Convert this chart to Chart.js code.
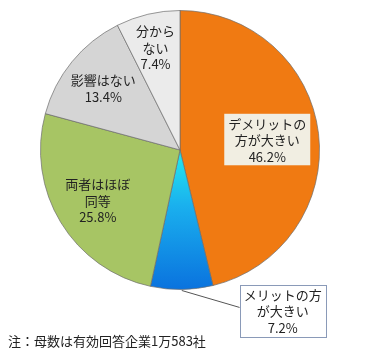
<!DOCTYPE html>
<html>
<head>
<meta charset="utf-8">
<script src="https://cdn.jsdelivr.net/npm/chart.js@4.4.0/dist/chart.umd.min.js"></script>
<style>
  html, body { margin: 0; padding: 0; background: #fff; }
  #wrap { position: relative; width: 380px; height: 364px; }
  #note {
    position: absolute; left: 8px; top: 331px;
    font: 13px "Noto Sans CJK JP", sans-serif; color: #222;
  }
</style>
</head>
<body>
<div id="wrap">
  <canvas id="pie" width="380" height="364"></canvas>
  <div id="note">注：母数は有効回答企業1万583社</div>
</div>
<script>
// ── Data ─────────────────────────────────────
const categories = ['デメリットの方が大きい', 'メリットの方が大きい', '両者はほぼ同等', '影響はない', '分からない'];
const labelLines = [
    ['デメリットの', '方が大きい'],
    ['メリットの方', 'が大きい'],
    ['両者はほぼ', '同等'],
    ['影響はない'],
    ['分から', 'ない']
];
const shares = [46.2, 7.2, 25.8, 13.4, 7.4];

// label placement: radius ratio inside slice, or outside with a box
const labelRadius = [0.63, null, 0.69, 0.71, 0.76];
const labelBox = [
    { fill: '#f1eee2', stroke: null },
    { fill: '#ffffff', stroke: '#8a9ab8' },
    null, null, null
];

const ctx = document.getElementById('pie').getContext('2d');

// blue slice gradient (cyan near centre → blue at rim)
const blueGrad = ctx.createLinearGradient(0, 160, 0, 290);
blueGrad.addColorStop(0, '#22e0ee');
blueGrad.addColorStop(0.35, '#1ab0ee');
blueGrad.addColorStop(1, '#0a72de');

const sliceLabels = {
    id: 'sliceLabels',
    afterDatasetsDraw(chart) {
        const c = chart.ctx;
        const arcs = chart.getDatasetMeta(0).data;
        c.save();
        c.font = '13px "Noto Sans CJK JP", sans-serif';
        c.textAlign = 'center';
        c.textBaseline = 'middle';
        const lh = 16.5;
        arcs.forEach((arc, i) => {
            const mid = (arc.startAngle + arc.endAngle) / 2;
            const lines = [...labelLines[i], shares[i].toFixed(1) + '%'];
            let x, y;
            if (labelRadius[i] !== null) {
                const r = arc.outerRadius * labelRadius[i];
                x = arc.x + Math.cos(mid) * r;
                y = arc.y + Math.sin(mid) * r;
            } else {
                // outside label with leader line
                const ex = arc.x + Math.cos(mid) * (arc.outerRadius + 1);
                const ey = arc.y + Math.sin(mid) * (arc.outerRadius + 1);
                x = ex + 101;
                y = ey + 20;
            }
            const h = lines.length * lh;
            const w = Math.max(...lines.map(t => c.measureText(t).width)) + 8;
            const box = labelBox[i];
            if (labelRadius[i] === null) {
                const ex = arc.x + Math.cos(mid) * (arc.outerRadius + 1);
                const ey = arc.y + Math.sin(mid) * (arc.outerRadius + 1);
                c.strokeStyle = '#555';
                c.lineWidth = 1;
                c.beginPath();
                c.moveTo(ex, ey);
                c.lineTo(x - w / 2, y - 3);
                c.stroke();
            }
            if (box) {
                const bh = h + 2;
                c.fillStyle = box.fill;
                c.fillRect(x - w / 2, y - bh / 2, w, bh);
                if (box.stroke) {
                    c.strokeStyle = box.stroke;
                    c.lineWidth = 1;
                    c.strokeRect(Math.round(x - w / 2) + 0.5, Math.round(y - bh / 2) + 0.5, Math.round(w), Math.round(bh));
                }
            }
            c.fillStyle = '#222';
            lines.forEach((t, k) => {
                c.fillText(t, x, y - h / 2 + lh * (k + 0.5) + 1);
            });
        });
        c.restore();
    }
};

new Chart(ctx, {
    type: 'pie',
    data: {
        labels: categories,
        datasets: [{
            data: shares,
            backgroundColor: ['#f07a12', blueGrad, '#a7c564', '#d5d5d5', '#ebebeb'],
            borderColor: 'rgba(110,110,110,0.7)',
            borderWidth: 1
        }]
    },
    plugins: [sliceLabels],
    options: {
        responsive: false,
        animation: false,
        layout: { padding: { left: 40, right: 60, top: 10, bottom: 74 } },
        plugins: {
            legend: { display: false },
            tooltip: { enabled: false }
        }
    }
});
</script>
</body>
</html>
